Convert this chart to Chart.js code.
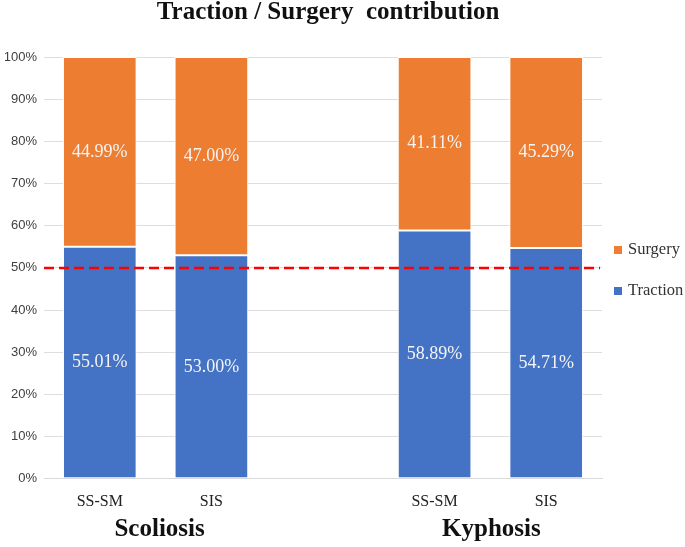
<!DOCTYPE html>
<html>
<head>
<meta charset="utf-8">
<script src="https://cdn.jsdelivr.net/npm/chart.js@4/dist/chart.umd.min.js"></script>
<style>
  html, body { margin: 0; padding: 0; background: #fff; }
  #wrap { width: 685px; height: 547px; }
</style>
</head>
<body>
<div id="wrap"><canvas id="contribChart" width="685" height="547"></canvas></div>
<script>
const categories = ['SS-SM', 'SIS', '', 'SS-SM', 'SIS'];
const groups = ['Scoliosis', 'Kyphosis'];
const groupIndexes = [[0, 1], [3, 4]];
const traction = [55.01, 53.00, null, 58.89, 54.71];
const surgery = [44.99, 47.00, null, 41.11, 45.29];
const yTicks = [0, 10, 20, 30, 40, 50, 60, 70, 80, 90, 100];
const threshold = 50;
const titleText = 'Traction / Surgery  contribution';

const serif = '"Liberation Serif", "Times New Roman", serif';

// valeurs dans les barres
const barLabels = {
    id: 'barLabels',
    afterDatasetsDraw(chart) {
        const ctx = chart.ctx;
        ctx.save();
        ctx.font = '18px ' + serif;
        ctx.fillStyle = '#f4f4f4';
        ctx.textAlign = 'center';
        ctx.textBaseline = 'middle';
        chart.data.datasets.forEach((ds, i) => {
            chart.getDatasetMeta(i).data.forEach((bar, j) => {
                if (ds.data[j] == null) return;
                const p = bar.getCenterPoint();
                ctx.fillText(ds.data[j].toFixed(2) + '%', p.x, p.y);
            });
        });
        ctx.restore();
    }
};

// ligne rouge 50 %
const refLine = {
    id: 'refLine',
    afterDatasetsDraw(chart) {
        const ctx = chart.ctx;
        const y = chart.scales.y.getPixelForValue(threshold);
        ctx.save();
        ctx.strokeStyle = '#ff0000';
        ctx.lineWidth = 2.5;
        ctx.setLineDash([10, 5]);
        ctx.beginPath();
        ctx.moveTo(chart.chartArea.left, y);
        ctx.lineTo(chart.chartArea.right - 2, y);
        ctx.stroke();
        ctx.restore();
    }
};

// titre, groupes + légende
const extras = {
    id: 'extras',
    afterDraw(chart) {
        const ctx = chart.ctx;
        const x = chart.scales.x;
        ctx.save();
        ctx.fillStyle = '#111';
        ctx.textAlign = 'center';
        ctx.textBaseline = 'middle';
        ctx.font = 'bold 25px ' + serif;
        ctx.fillText(titleText, 328, 13);

        groups.forEach((g, i) => {
            const idx = groupIndexes[i];
            const cx = (x.getPixelForValue(idx[0]) + x.getPixelForValue(idx[1])) / 2;
            ctx.fillText(g, cx + (i === 0 ? 4 : 1), 530);
        });

        // légende à droite
        const items = [1, 0];
        const ys = [250, 291];
        ctx.font = '16.5px ' + serif;
        ctx.textAlign = 'left';
        items.forEach((di, k) => {
            const ds = chart.data.datasets[di];
            ctx.fillStyle = ds.backgroundColor;
            ctx.fillRect(614, ys[k] - 4, 8, 8);
            ctx.fillStyle = '#333';
            ctx.fillText(ds.label, 628, ys[k]);
        });
        ctx.restore();
    }
};

const ctx = document.getElementById('contribChart').getContext('2d');
new Chart(ctx, {
    type: 'bar',
    data: {
        labels: categories,
        datasets: [{
            label: 'Traction',
            data: traction,
            backgroundColor: '#4472c4',
            borderColor: '#ffffff',
            borderWidth: 1,
            borderSkipped: false
        }, {
            label: 'Surgery',
            data: surgery,
            backgroundColor: '#ed7d31',
            borderColor: '#ffffff',
            borderWidth: 1,
            borderSkipped: false
        }]
    },
    options: {
        responsive: false,
        animation: false,
        events: [],
        layout: {
            padding: { left: 5, right: 83, top: 57, bottom: 31 }
        },
        datasets: {
            bar: { categoryPercentage: 1, barPercentage: 0.66 }
        },
        scales: {
            x: {
                stacked: true,
                grid: { display: false },
                border: { color: '#d9d9d9' },
                ticks: {
                    font: { family: serif, size: 16 },
                    color: '#222',
                    padding: 5
                }
            },
            y: {
                stacked: true,
                min: 0,
                max: 100,
                afterBuildTicks(axis) {
                    axis.ticks = yTicks.map(v => ({ value: v }));
                },
                afterFit(axis) {
                    axis.width = 39;
                },
                grid: { color: '#dedede', drawTicks: false },
                border: { display: false },
                ticks: {
                    font: { family: '"Liberation Sans", Arial, sans-serif', size: 13 },
                    color: '#404040',
                    padding: 7,
                    callback: v => v + '%'
                }
            }
        },
        plugins: {
            legend: { display: false },
            tooltip: { enabled: false },
            title: { display: false }
        }
    },
    plugins: [barLabels, refLine, extras]
});
</script>
</body>
</html>
